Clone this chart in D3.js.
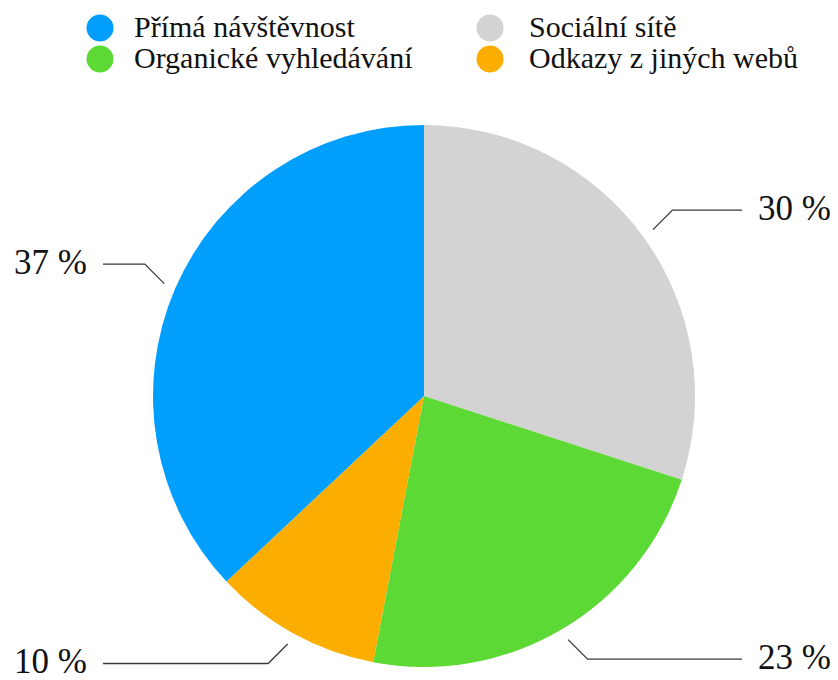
<!DOCTYPE html>
<html>
<head>
<meta charset="utf-8">
<script src="https://cdn.jsdelivr.net/npm/d3@7"></script>
<style>
  html, body { margin: 0; padding: 0; background: #fff; }
  svg { display: block; }
</style>
</head>
<body>
<svg id="chart" width="838" height="680"></svg>
<script>
// Traffic sources, in drawing order clockwise from 12 o'clock
const categories = ["Sociální sítě", "Organické vyhledávání", "Odkazy z jiných webů", "Přímá návštěvnost"];
const shares = [30, 23, 10, 37];
const colors = ["#d3d3d3", "#5dd936", "#fbae00", "#009ffd"];
// Legend order: first column, then second column
const legendOrder = ["Přímá návštěvnost", "Organické vyhledávání", "Sociální sítě", "Odkazy z jiných webů"];

const svg = d3.select("#chart");
const cx = 424, cy = 396, R = 271;
const font = "'Liberation Serif', 'Times New Roman', serif";

const color = d3.scaleOrdinal().domain(categories).range(colors);

const pie = d3.pie().sort(null).value(d => d.value).startAngle(0).endAngle(2 * Math.PI);
const arcs = pie(categories.map((c, i) => ({ name: c, value: shares[i] })));
const arc = d3.arc().innerRadius(0).outerRadius(R);

const g = svg.append("g").attr("transform", `translate(${cx},${cy})`);

g.selectAll("path.slice")
  .data(arcs)
  .join("path")
  .attr("class", "slice")
  .attr("d", arc)
  .attr("fill", d => color(d.data.name));

// Leader lines: short 45° elbow from just outside the rim, then a horizontal run
const leadR = R + 12;
const elbow = 19.5;
const leftEnd = 103 - cx, rightEnd = 742 - cx;

const labels = g.selectAll("g.label")
  .data(arcs)
  .join("g")
  .attr("class", "label");

labels.each(function (d) {
  const a = (d.startAngle + d.endAngle) / 2;
  const x0 = Math.sin(a) * leadR, y0 = -Math.cos(a) * leadR;
  const sx = Math.sin(a) >= 0 ? 1 : -1;
  const sy = Math.cos(a) >= 0 ? -1 : 1;
  const x1 = x0 + sx * elbow, y1 = y0 + sy * elbow;
  const x2 = sx > 0 ? rightEnd : leftEnd;
  const sel = d3.select(this);
  sel.append("polyline")
    .attr("points", [[x0, y0], [x1, y1], [x2, y1]].map(p => p.join(",")).join(" "))
    .attr("fill", "none")
    .attr("stroke", "#3a3a3a")
    .attr("stroke-width", 1.3);
  sel.append("text")
    .attr("x", x2 + sx * 16)
    .attr("y", y1 + 10)
    .attr("text-anchor", sx > 0 ? "start" : "end")
    .attr("font-family", font)
    .attr("font-size", 35)
    .attr("fill", "#111")
    .text(d.data.value + " %");
});

// Legend in two columns
const legend = svg.append("g");
const colX = [100, 490];
const textDx = [34, 39];
const rowY = [28, 59];
const items = legend.selectAll("g.item")
  .data(legendOrder)
  .join("g")
  .attr("class", "item")
  .attr("transform", (d, i) => `translate(${colX[Math.floor(i / 2)]},${rowY[i % 2]})`);

items.append("circle")
  .attr("r", 13.5)
  .attr("fill", d => color(d));

items.append("text")
  .attr("x", (d, i) => textDx[Math.floor(i / 2)])
  .attr("y", 9)
  .attr("font-family", font)
  .attr("font-size", 30)
  .attr("fill", "#111")
  .text(d => d);
</script>
</body>
</html>
